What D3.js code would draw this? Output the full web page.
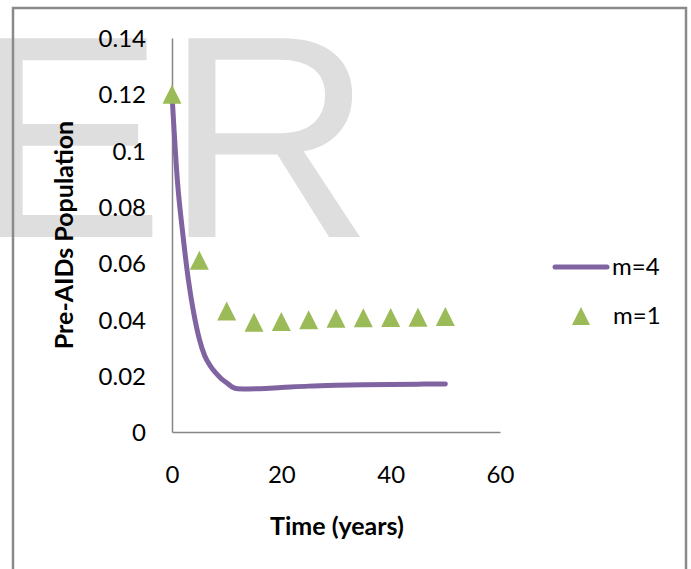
<!DOCTYPE html>
<html>
<head>
<meta charset="utf-8">
<script src="https://cdn.jsdelivr.net/npm/d3@7"></script>
<style>
  html, body { margin: 0; padding: 0; background: #ffffff; }
  svg { display: block; }
</style>
</head>
<body>
<svg id="chart" width="691" height="569"></svg>
<script>
// Pre-AIDS population over time for two values of m
const yearsM4 = [0, 1, 2, 3, 4, 5, 6, 7, 8, 9, 10, 11, 12, 14, 16, 20, 25, 30, 35, 40, 45, 50];
const valuesM4 = [0.12, 0.089, 0.070, 0.054, 0.042, 0.033, 0.027, 0.0235, 0.021, 0.019, 0.0175, 0.016, 0.0154,
                  0.0153, 0.0154, 0.0158, 0.0163, 0.0166, 0.0168, 0.0169, 0.0170, 0.0171];
const yearsM1 = [0, 5, 10, 15, 20, 25, 30, 35, 40, 45, 50];
const valuesM1 = [0.12, 0.061, 0.043, 0.039, 0.0393, 0.0399, 0.0404, 0.0406, 0.0407, 0.0408, 0.041];
const xTicks = [0, 20, 40, 60];
const yTicks = [0, 0.02, 0.04, 0.06, 0.08, 0.1, 0.12, 0.14];
const seriesNames = ["m=4", "m=1"];
const xTitle = "Time (years)";
const yTitle = "Pre-AIDs Population";

const purple = "#8064a2";
const green = "#9bbb59";
const axisGrey = "#868686";
const labelFont = "Lato, 'Open Sans', sans-serif";
const tickSize = 24;
const titleSize = 25;

const svg = d3.select("#chart");

// background watermark letters
svg.append("text")
  .attr("x", -28).attr("y", 237)
  .attr("font-family", "'Liberation Sans', Arial, sans-serif")
  .attr("font-size", 289)
  .attr("fill", "#dedede")
  .text("ER");

// chart frame (bottom edge falls outside the view)
svg.append("path")
  .attr("d", "M13,600 L13,8 L686,8 L686,600")
  .attr("fill", "none")
  .attr("stroke", "#8a8a8a")
  .attr("stroke-width", 2.5);

const x = d3.scaleLinear().domain([0, 60]).range([172, 500]);
const y = d3.scaleLinear().domain([0, 0.14]).range([432, 38]);

// axes without tick marks
const xAxis = svg.append("g")
  .attr("transform", `translate(0,${y(0)})`)
  .call(d3.axisBottom(x).tickValues(xTicks).tickSize(0).tickPadding(34).tickFormat(d3.format("d")));
const yAxis = svg.append("g")
  .attr("transform", `translate(${x(0)},0)`)
  .call(d3.axisLeft(y).tickValues(yTicks).tickSize(0).tickPadding(26).tickFormat(d => d === 0 ? "0" : String(+d.toFixed(2))));

[xAxis, yAxis].forEach(g => {
  g.select(".domain").attr("stroke", axisGrey).attr("stroke-width", 1.5);
  g.selectAll("text")
    .attr("font-family", labelFont)
    .attr("font-size", tickSize)
    .attr("fill", "#000");
});
yAxis.selectAll("text").attr("dy", "0.36em");

// m=4 smoothed line
const pointsM4 = yearsM4.map((t, i) => [t, valuesM4[i]]);
svg.append("path")
  .datum(pointsM4)
  .attr("fill", "none")
  .attr("stroke", purple)
  .attr("stroke-width", 5)
  .attr("stroke-linecap", "round")
  .attr("stroke-linejoin", "round")
  .attr("d", d3.line().x(d => x(d[0])).y(d => y(d[1])).curve(d3.curveMonotoneX));

// m=1 triangle markers
const tri = (cx, cy, s) => `M${cx},${cy - s} L${cx + s},${cy + s} L${cx - s},${cy + s} Z`;
svg.append("g").selectAll("path")
  .data(yearsM1.map((t, i) => [t, valuesM1[i]]))
  .join("path")
  .attr("d", d => tri(x(d[0]), y(d[1]), 9.5))
  .attr("fill", green);

// axis titles
svg.append("text")
  .attr("x", x(30) + 1).attr("y", 535)
  .attr("text-anchor", "middle")
  .attr("font-family", labelFont)
  .attr("font-weight", "bold")
  .attr("font-size", titleSize)
  .text(xTitle);

svg.append("text")
  .attr("transform", "translate(73,235) rotate(-90)")
  .attr("text-anchor", "middle")
  .attr("font-family", labelFont)
  .attr("font-weight", "bold")
  .attr("font-size", titleSize)
  .text(yTitle);

// legend
const legend = svg.append("g");
legend.append("line")
  .attr("x1", 555).attr("x2", 607).attr("y1", 267).attr("y2", 267)
  .attr("stroke", purple).attr("stroke-width", 5).attr("stroke-linecap", "round");
legend.append("text")
  .attr("x", 612).attr("y", 275)
  .attr("font-family", labelFont).attr("font-size", tickSize)
  .text(seriesNames[0]);
legend.append("path")
  .attr("d", tri(581, 316, 9))
  .attr("fill", green);
legend.append("text")
  .attr("x", 613).attr("y", 324)
  .attr("font-family", labelFont).attr("font-size", tickSize)
  .text(seriesNames[1]);
</script>
</body>
</html>
